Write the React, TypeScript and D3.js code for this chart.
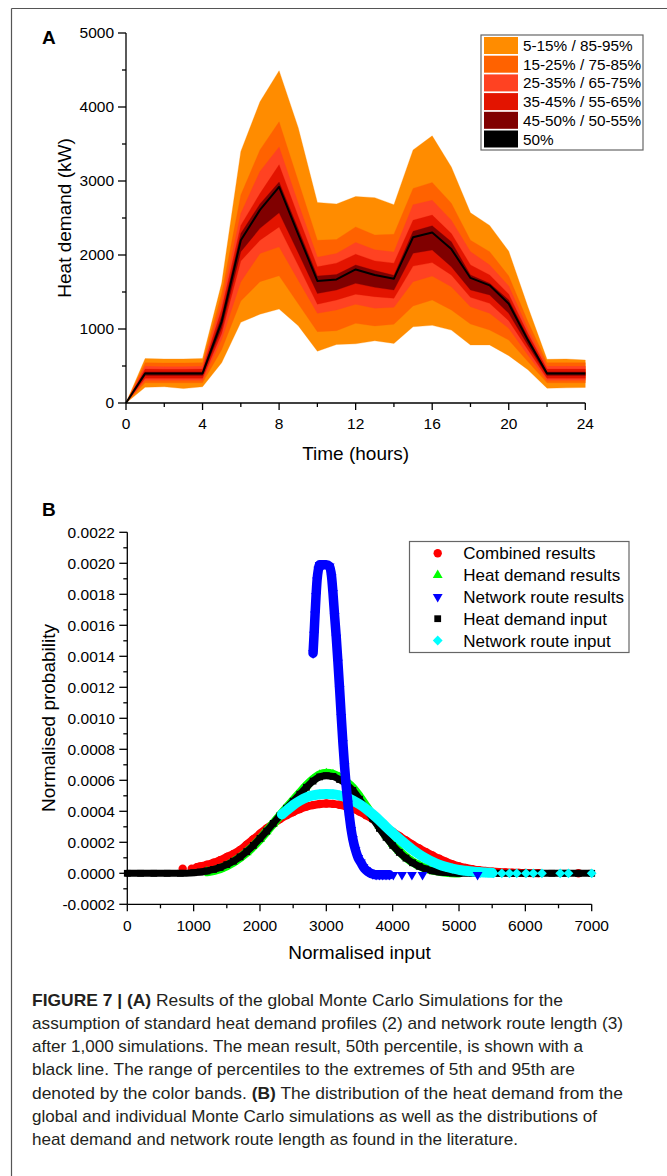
import React from 'react';
import * as d3 from 'd3';

// ---------- Panel A data (heat demand percentiles, kW) ----------
const hours = [0, 1, 2, 3, 4, 5, 6, 7, 8, 9, 10, 11, 12, 13, 14, 15, 16, 17, 18, 19, 20, 21, 22, 23, 24];
const p5 = [0, 212, 220, 195, 220, 545, 1090, 1200, 1270, 1045, 700, 790, 800, 840, 805, 1030, 1050, 985, 785, 785, 640, 450, 200, 205, 210];
const p15 = [0, 272, 272, 272, 272, 720, 1378, 1640, 1720, 1340, 964, 977, 1077, 1041, 1064, 1311, 1392, 1257, 1068, 986, 851, 560, 272, 272, 272];
const p25 = [0, 308, 308, 308, 308, 860, 1640, 2020, 2110, 1660, 1212, 1257, 1334, 1280, 1293, 1640, 1716, 1572, 1302, 1212, 1009, 650, 308, 308, 308];
const p35 = [0, 335, 335, 335, 335, 940, 1920, 2200, 2380, 1860, 1335, 1392, 1470, 1437, 1415, 1850, 1897, 1730, 1428, 1347, 1113, 720, 335, 335, 335];
const p45 = [0, 370, 370, 370, 370, 1010, 2045, 2360, 2570, 2030, 1480, 1527, 1617, 1563, 1527, 2023, 2068, 1842, 1527, 1460, 1212, 780, 370, 370, 370];
const p50 = [0, 400, 400, 400, 400, 1100, 2200, 2610, 2920, 2280, 1650, 1670, 1805, 1730, 1680, 2240, 2305, 2080, 1690, 1590, 1340, 850, 400, 400, 400];
const p55 = [0, 420, 420, 420, 420, 1180, 2290, 2690, 2985, 2350, 1715, 1735, 1865, 1790, 1725, 2320, 2395, 2180, 1730, 1617, 1392, 890, 420, 420, 420];
const p65 = [0, 458, 455, 455, 458, 1270, 2400, 2830, 3220, 2520, 1840, 1890, 2010, 1920, 1890, 2470, 2540, 2290, 1865, 1730, 1470, 940, 458, 458, 458];
const p75 = [0, 495, 490, 490, 495, 1360, 2560, 3130, 3460, 2700, 1970, 2020, 2170, 2070, 2040, 2680, 2740, 2470, 2045, 1865, 1580, 1000, 495, 495, 495];
const p85 = [0, 545, 540, 540, 545, 1480, 2810, 3420, 3800, 3000, 2200, 2210, 2380, 2270, 2280, 2900, 2980, 2700, 2200, 2045, 1716, 1100, 545, 545, 545];
const p95 = [0, 600, 595, 595, 600, 1620, 3400, 4070, 4490, 3720, 2710, 2690, 2790, 2775, 2680, 3420, 3610, 3190, 2570, 2400, 2050, 1300, 590, 595, 580];

const bandColors = ['#FF8C00', '#FF6200', '#FF4222', '#E31400', '#800000'];
const legendALabels = ['5-15% / 85-95%', '15-25% / 75-85%', '25-35% / 65-75%', '35-45% / 55-65%', '45-50% / 50-55%', '50%'];
const legendAColors = ['#FF8C00', '#FF6200', '#FF4222', '#E31400', '#800000', '#000000'];

const yTicksA = [0, 1000, 2000, 3000, 4000, 5000];
const yMinorA = [500, 1500, 2500, 3500, 4500];
const xTicksA = [0, 4, 8, 12, 16, 20, 24];
const xMinorA = [2, 6, 10, 14, 18, 22];

// ---------- Panel B data (normalised probability) ----------
const combinedCurve: [number, number][] = [
  [1050, 0.00004], [1100, 0.000045], [1200, 0.000055], [1300, 0.000068], [1400, 0.000085], [1500, 0.000105],
  [1600, 0.000125], [1700, 0.00015], [1800, 0.000185], [1900, 0.00022], [2000, 0.000255], [2100, 0.00029],
  [2200, 0.00032], [2300, 0.00035], [2400, 0.000375], [2500, 0.000395], [2600, 0.000415], [2700, 0.00043],
  [2800, 0.00044], [2900, 0.000447], [3000, 0.00045], [3100, 0.000448], [3200, 0.000442], [3300, 0.000432],
  [3400, 0.000416], [3500, 0.000398], [3600, 0.000375], [3700, 0.00035], [3800, 0.000322], [3900, 0.000295],
  [4000, 0.000268], [4100, 0.00024], [4200, 0.000212], [4300, 0.000185], [4400, 0.00016], [4500, 0.000137],
  [4600, 0.000115], [4700, 0.000094], [4800, 0.000075], [4900, 0.000058], [5000, 0.000045], [5100, 0.000035],
  [5200, 0.000027], [5300, 0.00002], [5400, 0.000015], [5500, 0.000011], [5600, 0.000008], [5700, 0.000006],
  [5800, 0.000004], [5900, 0.000003], [6000, 0.000002], [6200, 0.000001],
];
const combinedSparse: [number, number][] = [[835, 0.00003], [971, 0.00003], [6800, 0.0]];

const heatResultsCurve: [number, number][] = [
  [1200, 0.00001], [1400, 0.00003], [1600, 0.000072], [1800, 0.000135], [2000, 0.00022], [2100, 0.00027],
  [2200, 0.00032], [2300, 0.000372], [2400, 0.000422], [2500, 0.00047], [2600, 0.000518], [2700, 0.000565],
  [2800, 0.000605], [2900, 0.000635], [3000, 0.000645], [3100, 0.000638], [3200, 0.000618], [3300, 0.000588],
  [3400, 0.00055], [3500, 0.000495], [3600, 0.000432], [3700, 0.000368], [3800, 0.000305], [3900, 0.000245],
  [4000, 0.00019], [4100, 0.000143], [4200, 0.000104], [4300, 0.000073], [4400, 0.00005], [4500, 0.000032],
  [4600, 0.00002], [4800, 0.000007], [5000, 0.000002],
];

const networkResultsCurve: [number, number][] = [
  [2800, 0.00142], [2815, 0.00154], [2830, 0.00167], [2845, 0.00179], [2860, 0.00189], [2880, 0.00196],
  [2900, 0.00199], [2950, 0.00199], [3000, 0.00199], [3050, 0.00198], [3080, 0.00191], [3100, 0.00181],
  [3125, 0.00166], [3150, 0.00152], [3175, 0.00136], [3200, 0.00119], [3225, 0.00101], [3250, 0.00084],
  [3275, 0.00069], [3300, 0.00056], [3325, 0.00045], [3350, 0.00036], [3375, 0.00028], [3400, 0.00022],
  [3440, 0.00015], [3480, 0.0001], [3520, 0.00007], [3560, 0.00004], [3600, 0.00002], [3650, 0.000005],
  [3700, -0.000005], [3750, -0.00001], [3800, -0.00001], [3850, -0.00001], [3900, -0.00001], [3950, -0.00001],
];
const networkResultsSparse: [number, number][] = [[4010, -0.00001], [4140, -0.00001], [4290, -0.00001], [4450, -0.00001], [5280, -0.00001]];

const heatInputCurve: [number, number][] = [
  [0, 0], [200, 0], [400, 0], [600, 0], [800, 0], [1000, 0.000004], [1100, 0.000008], [1200, 0.000015],
  [1300, 0.000025], [1400, 0.000038], [1500, 0.000056], [1600, 0.000078], [1700, 0.000106], [1800, 0.00014],
  [1900, 0.00018], [2000, 0.000225], [2100, 0.000272], [2200, 0.000322], [2300, 0.000372], [2400, 0.00042],
  [2500, 0.000465], [2600, 0.00051], [2700, 0.000555], [2800, 0.000595], [2900, 0.000622], [3000, 0.00063],
  [3100, 0.000625], [3200, 0.000605], [3300, 0.000575], [3400, 0.000535], [3500, 0.000478], [3600, 0.000415],
  [3700, 0.000352], [3800, 0.00029], [3900, 0.000232], [4000, 0.00018], [4100, 0.000135], [4200, 0.000098],
  [4300, 0.000068], [4400, 0.000045], [4500, 0.000028], [4600, 0.000016], [4700, 0.000009], [4800, 0.000005],
  [4900, 0.000002], [5000, 0], [5200, 0], [5400, 0], [5600, 0], [5800, 0], [6000, 0], [6200, 0], [6400, 0],
  [6600, 0], [6800, 0], [7000, 0],
];

const networkInputCurve: [number, number][] = [
  [2330, 0.00038], [2400, 0.000405], [2500, 0.00044], [2600, 0.000468], [2700, 0.00049], [2800, 0.000503],
  [2900, 0.00051], [3000, 0.000512], [3100, 0.00051], [3200, 0.000502], [3300, 0.00049], [3400, 0.00047],
  [3500, 0.000445], [3600, 0.000415], [3700, 0.00038], [3800, 0.000342], [3900, 0.0003], [4000, 0.00026],
  [4100, 0.000222], [4200, 0.000186], [4300, 0.000152], [4400, 0.000122], [4500, 0.000096], [4600, 0.000074],
  [4700, 0.000056], [4800, 0.000042], [4900, 0.000031], [5000, 0.000022], [5100, 0.000016], [5200, 0.000011],
  [5300, 0.000008], [5400, 0.000005], [5500, 0.000003],
];
const networkInputSparse: [number, number][] = [
  [5320, 0.000002], [5520, 0], [5645, 0], [5760, 0], [5870, 0], [6010, 0], [6120, 0], [6250, 0], [6525, 0], [6650, 0], [7000, 0],
];

const legendBLabels = ['Combined results', 'Heat demand results', 'Network route results', 'Heat demand input', 'Network route input'];

const yTicksB = [-0.0002, 0, 0.0002, 0.0004, 0.0006, 0.0008, 0.001, 0.0012, 0.0014, 0.0016, 0.0018, 0.002, 0.0022];
const yMinorB = [-0.0001, 0.0001, 0.0003, 0.0005, 0.0007, 0.0009, 0.0011, 0.0013, 0.0015, 0.0017, 0.0019, 0.0021];
const xTicksB = [0, 1000, 2000, 3000, 4000, 5000, 6000, 7000];
const xMinorB = [500, 1500, 2500, 3500, 4500, 5500, 6500];

const captionLines = [
  { parts: [['FIGURE 7 | ', true], ['(A)', true], [' Results of the global Monte Carlo Simulations for the', false]], w: 531 },
  { parts: [['assumption of standard heat demand profiles (2) and network route length (3)', false]], w: 591 },
  { parts: [['after 1,000 simulations. The mean result, 50th percentile, is shown with a', false]], w: 551 },
  { parts: [['black line. The range of percentiles to the extremes of 5th and 95th are', false]], w: 543 },
  { parts: [['denoted by the color bands. ', false], ['(B)', true], [' The distribution of the heat demand from the', false]], w: 591 },
  { parts: [['global and individual Monte Carlo simulations as well as the distributions of', false]], w: 565 },
  { parts: [['heat demand and network route length as found in the literature.', false]], w: 486 },
];

const FONT = "'Liberation Sans', Arial, Helvetica, sans-serif";

type Sym = 'circle' | 'tri' | 'tridown' | 'square' | 'diamond';
function symbolPath(kind: Sym): string {
  if (kind === 'circle') return d3.symbol().type(d3.symbolCircle).size(55)()!;
  if (kind === 'tri') return d3.symbol().type(d3.symbolTriangle).size(42)()!;
  if (kind === 'tridown') return d3.symbol().type(d3.symbolTriangle).size(42)()!;
  if (kind === 'square') return d3.symbol().type(d3.symbolSquare).size(46)()!;
  return d3.symbol().type(d3.symbolSquare).size(48)()!;
}
function symTransform(kind: Sym, x: number, y: number) {
  if (kind === 'tridown') return `translate(${x},${y}) rotate(180)`;
  if (kind === 'diamond') return `translate(${x},${y}) rotate(45)`;
  return `translate(${x},${y})`;
}

export default function App() {
  const W = 667, H = 1176;
  const xA = d3.scaleLinear().domain([0, 24]).range([126, 585.3]);
  const yA = d3.scaleLinear().domain([0, 5000]).range([403, 33]);
  const xB = d3.scaleLinear().domain([0, 7000]).range([127.3, 591.7]);
  const yB = d3.scaleLinear().domain([-0.0002, 0.0022]).range([904.3, 532.3]);

  const bands: [number[], number[]][] = [[p5, p95], [p15, p85], [p25, p75], [p35, p65], [p45, p55]];
  const areaGen = (lo: number[], hi: number[]) =>
    d3.area<number>().x((_, i) => xA(hours[i])).y0((_, i) => yA(lo[i])).y1((_, i) => yA(hi[i]))(hours) || '';
  const medianPath = d3.line<number>().x((_, i) => xA(hours[i])).y((_, i) => yA(p50[i]))(hours) || '';

  const lineB = d3.line<[number, number]>().x(d => xB(d[0])).y(d => yB(d[1])).curve(d3.curveMonotoneX);

  const seriesB: { curve: [number, number][]; sparse: [number, number][]; color: string; sym: Sym; w: number }[] = [
    { curve: combinedCurve, sparse: combinedSparse, color: '#FF0000', sym: 'circle', w: 8 },
    { curve: heatResultsCurve, sparse: [], color: '#00FF00', sym: 'tri', w: 9 },
    { curve: heatInputCurve, sparse: [], color: '#000000', sym: 'square', w: 7 },
    { curve: networkInputCurve, sparse: networkInputSparse, color: '#00FFFF', sym: 'diamond', w: 10 },
    { curve: networkResultsCurve, sparse: networkResultsSparse, color: '#0000FF', sym: 'tridown', w: 9.5 },
  ];
  const legendBOrder: { color: string; sym: Sym }[] = [
    { color: '#FF0000', sym: 'circle' },
    { color: '#00FF00', sym: 'tri' },
    { color: '#0000FF', sym: 'tridown' },
    { color: '#000000', sym: 'square' },
    { color: '#00FFFF', sym: 'diamond' },
  ];

  const axisStroke = '#000';
  const tickFont = 15.5;

  return (
    <svg width={W} height={H} style={{ position: 'absolute', left: 0, top: 0, background: '#fff' }} fontFamily={FONT}>
      <rect x={0} y={0} width={W} height={H} fill="#fff" />
      {/* frame */}
      <line x1={11.5} y1={8.5} x2={W} y2={8.5} stroke="#555" strokeWidth={1.2} />
      <line x1={11.5} y1={8.5} x2={11.5} y2={H} stroke="#555" strokeWidth={1.2} />

      {/* ===== Panel A ===== */}
      <text x={42} y={44} fontSize={19} fontWeight="bold">A</text>
      {bands.map(([lo, hi], i) => (
        <path key={i} d={areaGen(lo, hi)} fill={bandColors[i]} stroke={bandColors[i]} strokeWidth={0.3} />
      ))}
      <path d={medianPath} fill="none" stroke="#000" strokeWidth={2} strokeLinejoin="round" />

      {/* axes A */}
      <line x1={126} y1={yA(5000)} x2={126} y2={403} stroke={axisStroke} strokeWidth={1.3} />
      <line x1={126} y1={403} x2={xA(24)} y2={403} stroke={axisStroke} strokeWidth={1.3} />
      {yTicksA.map(v => (
        <g key={'ya' + v}>
          <line x1={118} x2={126} y1={yA(v)} y2={yA(v)} stroke={axisStroke} strokeWidth={1.3} />
          <text x={114} y={yA(v) + 5.4} fontSize={tickFont} textAnchor="end">{v}</text>
        </g>
      ))}
      {yMinorA.map(v => (
        <line key={'yma' + v} x1={122} x2={126} y1={yA(v)} y2={yA(v)} stroke={axisStroke} strokeWidth={1.3} />
      ))}
      {xTicksA.map(v => (
        <g key={'xa' + v}>
          <line x1={xA(v)} x2={xA(v)} y1={403} y2={410} stroke={axisStroke} strokeWidth={1.3} />
          <text x={xA(v)} y={428.8} fontSize={tickFont} textAnchor="middle">{v}</text>
        </g>
      ))}
      {xMinorA.map(v => (
        <line key={'xma' + v} x1={xA(v)} x2={xA(v)} y1={403} y2={407} stroke={axisStroke} strokeWidth={1.3} />
      ))}
      <text x={(126 + 585.3) / 2} y={460} fontSize={19} textAnchor="middle">Time (hours)</text>
      <text transform={`translate(71,218) rotate(-90)`} fontSize={19} textAnchor="middle">Heat demand (kW)</text>

      {/* legend A */}
      <rect x={481} y={35} width={162} height={115} fill="#fff" stroke="#666" strokeWidth={1.2} />
      {legendALabels.map((lab, i) => (
        <g key={lab}>
          <rect x={484} y={37 + i * 18.7} width={34} height={17} fill={legendAColors[i]} />
          <text x={523} y={37 + i * 18.7 + 14} fontSize={15.3}>{lab}</text>
        </g>
      ))}

      {/* ===== Panel B ===== */}
      <text x={42} y={516} fontSize={19} fontWeight="bold">B</text>

      {seriesB.map((s, si) => (
        <g key={'s' + si}>
          <path d={lineB(s.curve) || ''} fill="none" stroke={s.color} strokeWidth={s.w} strokeLinejoin="round" strokeLinecap="round" />
          {s.curve.concat(s.sparse).map((d, i) => (
            <path key={i} d={symbolPath(s.sym)} transform={symTransform(s.sym, xB(d[0]), yB(d[1]))} fill={s.color} />
          ))}
        </g>
      ))}

      {/* axes B */}
      <line x1={127.3} y1={532.3} x2={127.3} y2={904.3} stroke={axisStroke} strokeWidth={1.3} />
      <line x1={127.3} y1={904.3} x2={591.7} y2={904.3} stroke={axisStroke} strokeWidth={1.3} />
      {yTicksB.map(v => (
        <g key={'yb' + v}>
          <line x1={119.3} x2={127.3} y1={yB(v)} y2={yB(v)} stroke={axisStroke} strokeWidth={1.3} />
          <text x={115} y={yB(v) + 5.4} fontSize={tickFont} textAnchor="end">{v.toFixed(4)}</text>
        </g>
      ))}
      {yMinorB.map(v => (
        <line key={'ymb' + v} x1={123.3} x2={127.3} y1={yB(v)} y2={yB(v)} stroke={axisStroke} strokeWidth={1.3} />
      ))}
      {xTicksB.map(v => (
        <g key={'xb' + v}>
          <line x1={xB(v)} x2={xB(v)} y1={904.3} y2={911.3} stroke={axisStroke} strokeWidth={1.3} />
          <text x={xB(v)} y={930.5} fontSize={tickFont} textAnchor="middle">{v}</text>
        </g>
      ))}
      {xMinorB.map(v => (
        <line key={'xmb' + v} x1={xB(v)} x2={xB(v)} y1={904.3} y2={908.3} stroke={axisStroke} strokeWidth={1.3} />
      ))}
      <text x={(127.3 + 591.7) / 2} y={958.5} fontSize={19} textAnchor="middle">Normalised input</text>
      <text transform={`translate(54.5,718) rotate(-90)`} fontSize={19} textAnchor="middle">Normalised probability</text>

      {/* legend B */}
      <rect x={409.5} y={541.5} width={219.5} height={111} fill="#fff" stroke="#666" strokeWidth={1.2} />
      {legendBLabels.map((lab, i) => {
        const cy = 553.3 + i * 21.8;
        const m = legendBOrder[i];
        return (
          <g key={lab}>
            <path d={symbolPath(m.sym)} transform={symTransform(m.sym, 437.7, cy)} fill={m.color} />
            <text x={463.3} y={cy + 6} fontSize={17}>{lab}</text>
          </g>
        );
      })}

      {/* caption */}
      {captionLines.map((ln, i) => (
        <text key={'c' + i} x={32} y={1005.5 + i * 23.3} fontSize={17} fill="#231F20"
          textLength={ln.w} lengthAdjust="spacingAndGlyphs">
          {ln.parts.map((p, j) => (
            <tspan key={j} fontWeight={p[1] ? 'bold' : 'normal'}>{p[0] as string}</tspan>
          ))}
        </text>
      ))}
    </svg>
  );
}
